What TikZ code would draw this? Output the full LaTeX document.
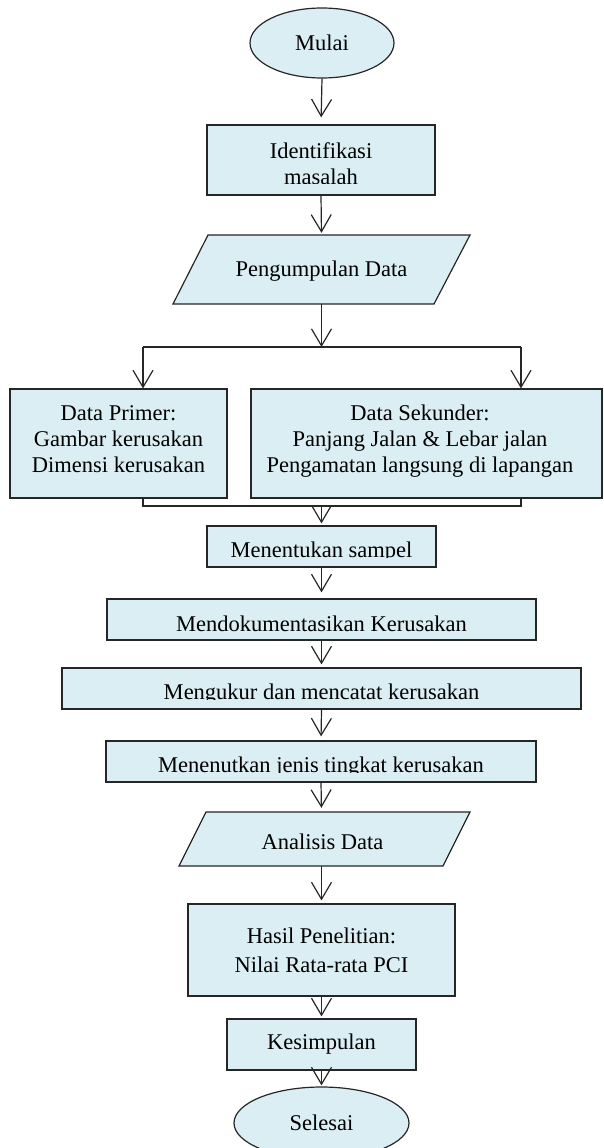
\documentclass[tikz,border=0pt]{standalone}
\usepackage{fontspec}
\setmainfont{Liberation Serif}
\usetikzlibrary{arrows.meta,shapes.geometric}
\definecolor{boxfill}{HTML}{DAEEF3}
\definecolor{edgecol}{HTML}{262626}
\begin{document}
\begin{tikzpicture}[x=1pt,y=-1pt,
  box/.style={draw=edgecol, fill=boxfill, line width=1.2pt, rectangle, inner sep=0pt},
  oval/.style={draw=edgecol, fill=boxfill, line width=1.2pt, ellipse, inner sep=0pt, font=\fontsize{22.5}{26}\selectfont},
  txt/.style={inner sep=0pt, anchor=base, font=\fontsize{22.5}{26}\selectfont},
  ghost/.style={inner sep=0pt, rectangle},
  conn/.style={draw=edgecol, line width=1.2pt},
  arr/.style={conn, -{Straight Barb[length=17pt,width=20pt,line width=1.2pt]}},
  cover/.style={fill=boxfill, draw=none}
]
\useasboundingbox (0,0) rectangle (603,1148);
\clip (0,0) rectangle (603,1148);

% ---- shapes ----
\node[oval, minimum width=144pt, minimum height=70pt] (mulai) at (322,43) {Mulai};

\node[box, minimum width=228pt, minimum height=70pt] (ident) at (321,160) {};
\node[txt] (ident-a) at (321,158) {Identifikasi};
\node[txt] (ident-b) at (321,184) {masalah};
\fill[cover] (207.7,183.5) rectangle (434.3,194.3);

\filldraw[draw=edgecol, fill=boxfill, line width=1.2pt] (208,235) -- (470,235) -- (434,304) -- (173,304) -- cycle;
\node[ghost, minimum width=262pt, minimum height=69pt] (pd) at (321.5,269.5) {};
\node[txt] (pd-t) at (321.5,276) {Pengumpulan Data};

\node[box, minimum width=217pt, minimum height=109pt] (prim) at (118.5,443.5) {};
\node[txt] (prim-a) at (118.5,420) {Data Primer:};
\node[txt] (prim-b) at (118.5,446) {Gambar kerusakan};
\node[txt] (prim-c) at (118.5,472) {Dimensi kerusakan};

\node[box, minimum width=351pt, minimum height=109pt] (sek) at (426.5,443.5) {};
\node[txt] (sek-a) at (420,420) {Data Sekunder:};
\node[txt] (sek-b) at (420,446) {Panjang Jalan \& Lebar jalan};
\node[txt] (sek-c) at (420,472) {Pengamatan langsung di lapangan};

\node[box, minimum width=229pt, minimum height=41pt] (sampel) at (321.5,546.5) {};
\node[txt] (sampel-t) at (321.5,557) {Menentukan sampel};
\fill[cover] (207.7,557.5) rectangle (435.3,566.3);

\node[box, minimum width=429pt, minimum height=41pt] (dok) at (321.5,619.5) {};
\node[txt] (dok-t) at (321.5,631) {Mendokumentasikan Kerusakan};

\node[box, minimum width=519pt, minimum height=41pt] (ukur) at (321.5,688.5) {};
\node[txt] (ukur-t) at (321.5,699) {Mengukur dan mencatat kerusakan};
\fill[cover] (62.7,699.5) rectangle (580.3,708.3);

\node[box, minimum width=430pt, minimum height=41pt] (jenis) at (321,761.5) {};
\node[txt] (jenis-t) at (321,772) {Menenutkan jenis tingkat kerusakan};
\fill[cover] (106.7,772.5) rectangle (535.3,781.3);

\filldraw[draw=edgecol, fill=boxfill, line width=1.2pt] (206,812) -- (470,812) -- (443,866) -- (179,866) -- cycle;
\node[ghost, minimum width=264pt, minimum height=54pt] (anal) at (321.5,839) {};
\node[txt] (anal-t) at (322.5,849) {Analisis Data};

\node[box, minimum width=267pt, minimum height=92pt] (hasil) at (321.5,950) {};
\node[txt] (hasil-a) at (321.5,943) {Hasil Penelitian:};
\node[txt] (hasil-b) at (321.5,972) {Nilai Rata-rata PCI};

\node[box, minimum width=189pt, minimum height=51pt, font=\fontsize{22.5}{26}\selectfont] (kes) at (321.5,1044.5) {Kesimpulan};

\node[oval, minimum width=175pt, minimum height=72pt] (sel) at (321.5,1123) {Selesai};

% ---- connectors ----
\draw[arr, shorten >=7pt] (mulai.south) -- (ident.north);
\draw[arr, shorten >=2pt] (ident.south) -- (pd.north);

\coordinate (split) at (321.5,347);
\coordinate (hl) at (143,347);
\coordinate (hr) at (521,347);
\draw[arr] (pd.south) -- (split);
\draw[conn] (hl) -- (hr);
\draw[arr] (hl) -- (hl |- prim.north);
\draw[arr] (hr) -- (hr |- sek.north);

\coordinate (bl) at (143,506);
\coordinate (br) at (521,506);
\coordinate (bm) at (321.5,506);
\draw[conn] (bl |- prim.south) -- (bl) -- (br) -- (br |- sek.south);
\draw[arr, shorten >=2pt] (bm) -- (sampel.north);

\draw[arr, shorten >=6pt] (sampel.south) -- (dok.north);
\draw[arr, shorten >=3pt] (dok.south) -- (ukur.north);
\draw[arr, shorten >=4pt] (ukur.south) -- (jenis.north);
\draw[arr, shorten >=4pt] (jenis.south) -- (anal.north);
\draw[arr, shorten >=3pt] (anal.south) -- (hasil.north);
\draw[arr, shorten >=2pt] (hasil.south) -- (kes.north);
\draw[arr, shorten >=1pt] (kes.south) -- (sel.north);
\end{tikzpicture}
\end{document}
